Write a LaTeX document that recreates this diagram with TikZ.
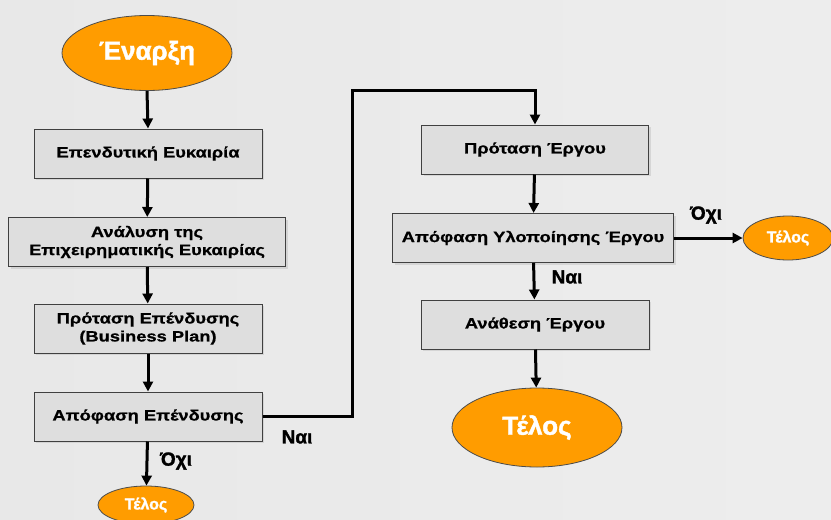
\documentclass[tikz,border=0pt]{standalone}
\usepackage{fontspec}
\setmainfont{Liberation Sans}
\newfontfamily\widefont{Liberation Sans}[FakeStretch=1.22,FakeBold=0.8]
\newfontfamily\heavyfont{Liberation Sans}[FakeBold=1.5]
\usetikzlibrary{arrows.meta,shapes.geometric,shadows}
\definecolor{boxgray}{HTML}{DEDEDE}
\definecolor{termorange}{HTML}{FF9C00}
\tikzset{
    stepbox/.style={draw=black!75, fill=boxgray, line width=1pt, minimum height=49pt,
        align=center, inner sep=0pt, font=\widefont\bfseries\fontsize{15}{18}\selectfont,
        drop shadow={shadow xshift=2pt, shadow yshift=-2pt, opacity=0.2}},
    terminal/.style={ellipse, draw=black!70, fill=termorange, text=white, inner sep=0pt, line width=0.8pt},
    bigterm/.style={terminal, minimum width=170pt, minimum height=75pt, font=\heavyfont\bfseries\fontsize{26}{30}\selectfont},
    smallterm/.style={terminal, minimum width=92pt, minimum height=44pt, font=\heavyfont\bfseries\fontsize{16}{19}\selectfont},
    flow/.style={line width=3pt, -{Triangle[length=10pt,width=10pt]}},
    answer/.style={font=\heavyfont\bfseries\fontsize{19}{22}\selectfont}
}
\begin{document}
\begin{tikzpicture}[x=1pt,y=-1pt]
    \shade[left color=black!9, middle color=white, right color=black!7] (0,0) rectangle (831,520);
    \useasboundingbox (0,0) rectangle (831,520);
    % left column
    \node[bigterm] (start) at (147,53) {Έναρξη};
    \node[stepbox, minimum width=228pt] (opp) at (148,153.5) {Επενδυτική Ευκαιρία};
    \node[stepbox, minimum width=277pt] (anal) at (147,242) {Ανάλυση της\\Επιχειρηματικής Ευκαιρίας};
    \node[stepbox, minimum width=228pt] (plan) at (148,328.5) {Πρόταση Επένδυσης\\(Business Plan)};
    \node[stepbox, minimum width=228pt] (invdec) at (148,416.5) {Απόφαση Επένδυσης};
    \node[smallterm, minimum width=96pt, minimum height=38pt] (endA) at (146,505) {Τέλος};
    % right column
    \node[stepbox, minimum width=227pt] (proj) at (535,149.5) {Πρόταση Έργου};
    \node[stepbox, minimum width=281pt] (impl) at (533,238) {Απόφαση Υλοποίησης Έργου};
    \node[smallterm, minimum width=90pt] (endB) at (788,238) {Τέλος};
    \node[stepbox, minimum width=228pt] (assign) at (535,324.5) {Ανάθεση Έργου};
    \node[bigterm, minimum height=79pt] (endC) at (537,427.5) {Τέλος};
    % connectors
    \draw[flow] (start.south) -- (opp.north);
    \draw[flow] (opp) -- (anal);
    \draw[flow] (anal) -- (plan);
    \draw[flow] (plan) -- (invdec);
    \draw[flow] (invdec) -- (endA);
    \coordinate (bendlo) at (352,416.5);
    \coordinate (bendhi) at (352,90);
    \draw[flow] (invdec.east) -- (bendlo) -- (bendhi) -| (proj.north);
    \draw[flow] (proj) -- (impl);
    \draw[flow] (impl) -- (assign);
    \draw[flow] (impl.east) -- (endB.west);
    \draw[flow] (assign) -- (endC);
    % answers
    \node[answer] (noA) at (176,461) {Όχι};
    \node[answer] (yesA) at (297,437) {Ναι};
    \node[answer] (noB) at (706,215) {Όχι};
    \node[answer] (yesB) at (567,277) {Ναι};
\end{tikzpicture}
\end{document}
